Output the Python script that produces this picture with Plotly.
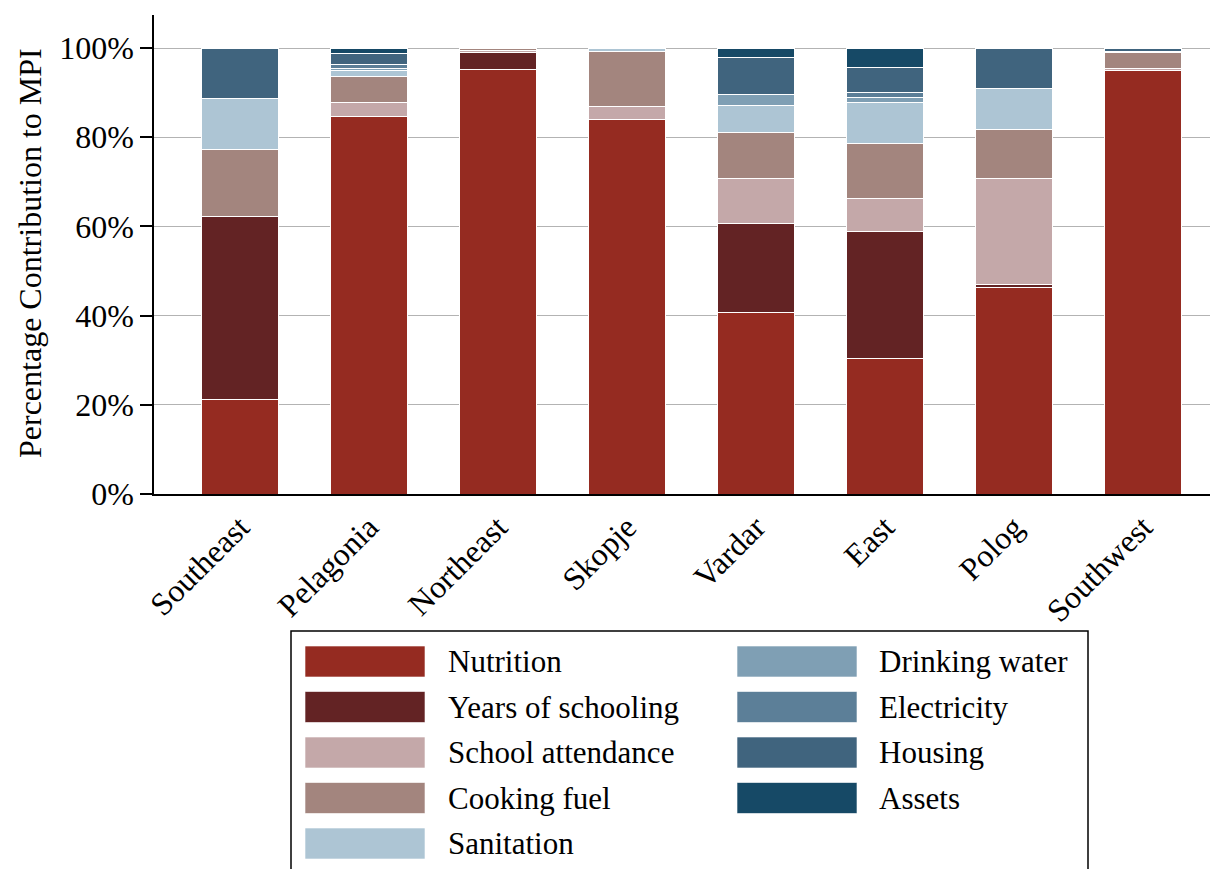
import plotly.graph_objects as go

categories = ["Southeast", "Pelagonia", "Northeast", "Skopje", "Vardar", "East", "Polog", "Southwest"]
series_names = ["Nutrition", "Years of schooling", "School attendance", "Cooking fuel",
                "Sanitation", "Drinking water", "Electricity", "Housing", "Assets"]
nutrition   = [21.3, 84.7, 95.2, 83.9, 40.8, 30.3, 46.3, 95.0]
schooling   = [41.0, 0.0, 3.9, 0.0, 19.9, 28.6, 0.6, 0.0]
attendance  = [0.0, 3.1, 0.4, 3.0, 10.0, 7.4, 23.9, 0.5]
cooking     = [14.9, 5.85, 0.5, 12.3, 10.3, 12.2, 10.9, 3.4]
sanitation  = [11.4, 1.35, 0.0, 0.8, 6.1, 9.2, 9.2, 0.3]
water       = [0.0, 0.3, 0.0, 0.0, 2.4, 1.25, 0.0, 0.0]
electricity = [0.0, 1.05, 0.0, 0.0, 0.0, 1.0, 0.0, 0.0]
housing     = [11.4, 2.5, 0.0, 0.0, 8.4, 5.6, 9.1, 0.8]
assets      = [0.0, 1.15, 0.0, 0.0, 2.1, 4.45, 0.0, 0.0]
y_ticks = [0, 20, 40, 60, 80, 100]
y_tick_labels = ["0%", "20%", "40%", "60%", "80%", "100%"]

series_values = [nutrition, schooling, attendance, cooking, sanitation,
                 water, electricity, housing, assets]
colors = ["#952B21", "#632324", "#C4A8A9", "#A3857E", "#ADC5D4",
          "#7F9FB4", "#5C7F98", "#40647E", "#164966"]

FONT = "Liberation Serif"
FS = 31
OFF = 8  # page body margin
W, H = 1218 - OFF, 869 - OFF
L, T = 154 - OFF, 15 - OFF
R = 0
B = H - (494 - OFF)
PW, PH = W - L - R, H - T - B

fig = go.Figure()
for name, vals, col in zip(series_names, series_values, colors):
    fig.add_trace(go.Bar(
        x=categories, y=[v if v > 0 else None for v in vals], name=name,
        marker=dict(color=col, line=dict(color="white", width=1)),
        showlegend=False,
    ))

def px(x):
    return (x - OFF - L) / PW

def py(y):
    return (H - B - (y - OFF)) / PH

shapes = []
annotations = []
# legend box
shapes.append(dict(type="rect", xref="paper", yref="paper",
                   x0=px(291), x1=px(1088), y0=py(900), y1=py(631),
                   line=dict(color="black", width=1.5), fillcolor="white"))
col_x = [(305, 425, 446), (737, 857, 877)]
row_c = [661.5, 707, 752.5, 798, 843.5]
for i, (name, col) in enumerate(zip(series_names, colors)):
    c = 0 if i < 5 else 1
    r = i if i < 5 else i - 5
    x0, x1, tx = col_x[c]
    yc = row_c[r]
    shapes.append(dict(type="rect", xref="paper", yref="paper",
                       x0=px(x0), x1=px(x1), y0=py(yc + 15.5), y1=py(yc - 15.5),
                       line=dict(color="rgba(255,255,255,0.6)", width=1), fillcolor=col))
    annotations.append(dict(xref="paper", yref="paper", x=px(tx), y=py(yc),
                            text=name, showarrow=False, xanchor="left", yanchor="middle",
                            font=dict(family=FONT, size=FS, color="black")))
# y-axis title placed at its reference position
annotations.append(dict(xref="paper", yref="paper", x=px(30), y=py(253),
                        text="Percentage Contribution to MPI", textangle=-90,
                        showarrow=False, xanchor="center", yanchor="middle",
                        font=dict(family=FONT, size=32, color="black")))

fig.update_layout(
    width=W, height=H,
    margin=dict(l=L, r=R, t=T, b=B, autoexpand=False),
    barmode="stack", bargap=0.41,
    plot_bgcolor="white", paper_bgcolor="white",
    font=dict(family=FONT, size=FS, color="black"),
    shapes=shapes, annotations=annotations,
    xaxis=dict(
        range=[-(240 - OFF - L) / 129, -(240 - OFF - L) / 129 + PW / 129],
        tickangle=-45, ticks="", showline=True, linecolor="black", linewidth=1.5,
        tickfont=dict(family=FONT, size=32), showgrid=False, automargin=False,
    ),
    yaxis=dict(
        range=[0, 107.4], tickmode="array", tickvals=y_ticks, ticktext=y_tick_labels,
        ticks="outside", ticklen=12, tickcolor="black", tickwidth=1.5,
        showline=True, linecolor="black", linewidth=1.5,
        showgrid=True, gridcolor="#b3b3b3", gridwidth=1,
        tickfont=dict(family=FONT, size=32), automargin=False,
        zeroline=False,
    ),
)

fig.write_html("out.html")
